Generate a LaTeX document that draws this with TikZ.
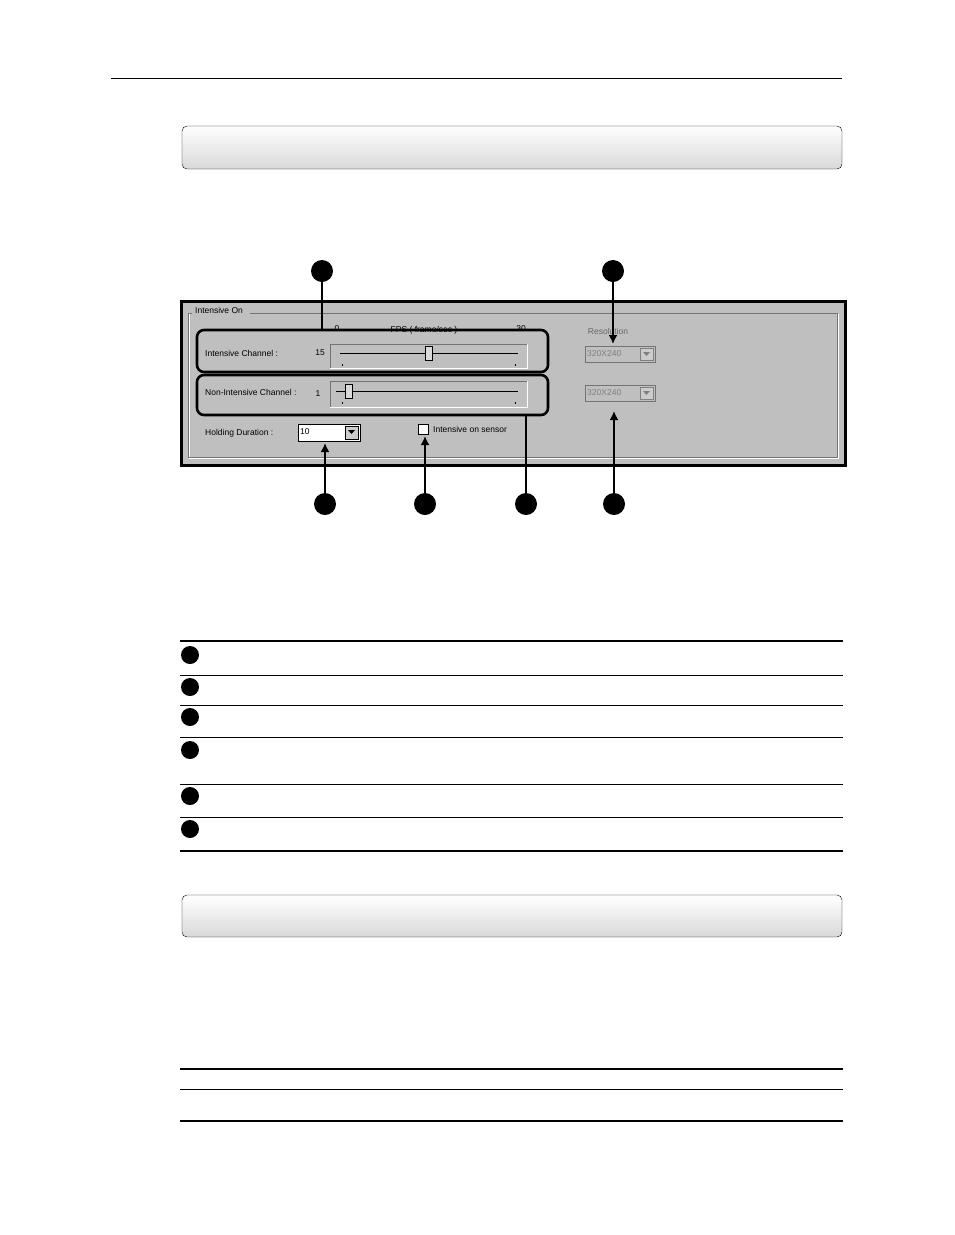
\documentclass[tikz,border=0pt]{standalone}
\usepackage{fontspec}
\setmainfont{Liberation Sans}
\usetikzlibrary{arrows.meta}
\begin{document}
\begin{tikzpicture}[x=1pt,y=-1pt,
  dot/.style={circle,fill=black,inner sep=0pt,minimum size=22pt},
  sdot/.style={circle,fill=black,inner sep=0pt,minimum size=18pt},
  ui/.style={font=\fontsize{8.5}{9}\selectfont,inner sep=0pt},
  hl/.style={draw=black,line width=2.6pt,rounded corners=7pt},
  con/.style={line width=2.6pt},
  arr/.style={line width=2.6pt,-{Latex[length=9pt,width=9pt]}},
  hdr/.style={draw=black,rounded corners=5pt,top color=white,bottom color=black!15}]
\useasboundingbox (0,0) rectangle (954,1235);
\draw[line width=0.8pt] (111,78) -- (842,78);
\path[hdr] (182,126) rectangle (842,169);
\path[hdr] (182,895) rectangle (842,937);
% panel
\draw[line width=3pt,fill=black!25] (181,301) rectangle (845,465);
\draw[white,line width=0.6pt] (189,314) -- (189,458) -- (838,458) -- (838,314);
\draw[black!55,line width=0.6pt] (188,313) -- (188,457) -- (837,457) -- (837,313) -- (250,313);
\draw[black!55] (188,313) -- (192,313);
\node[ui,anchor=west,fill=black!25,inner xsep=1pt] (gb) at (194,310) {Intensive On};
\node[ui] (t0) at (337,329) {0};
\node[ui] (fps) at (424,330) {FPS ( frame/sec )};
\node[ui] (t30) at (521,329) {30};
\node[ui,black!60] (res) at (608,331) {Resolution};
\node[ui,anchor=west] (ic) at (205,353) {Intensive Channel :};
\node[ui] (n15) at (320,353) {15};
\node[ui,anchor=west] (nic) at (205,392) {Non-Intensive Channel :};
\node[ui] (n1) at (318,394) {1};
% sliders
\draw[black!55] (330,368) -- (330,344) -- (527,344);
\draw[white] (527,344) -- (527,368) -- (330,368);
\draw (340,353) -- (518,353);
\draw[fill=black!15] (425,346) rectangle (432,360);
\draw (342,364)--(342,366) (515,364)--(515,366);
\draw[black!55] (330,407) -- (330,381) -- (527,381);
\draw[white] (527,381) -- (527,407) -- (330,407);
\draw (340,391) -- (518,391);
\draw[fill=black!15] (345,384) rectangle (352,398);
\draw (336,391)--(344,391);
\draw (342,402)--(342,404) (515,402)--(515,404);
% dropdowns
\foreach \y/\nm in {346/da,385/db}{
  \draw[black!55,fill=black!25] (585,\y) rectangle (655,\y+16);
  \draw[black!50,fill=black!20] (640,\y+2) rectangle (653,\y+14);
  \fill[black!50] (643,\y+6) -- (650,\y+6) -- (646.5,\y+10) -- cycle;
  \node[ui,black!50,anchor=west] (\nm) at (587,\y+8) {320X240};
}
\node[ui,anchor=west] (hd) at (205,433) {Holding Duration :};
\draw[fill=white] (298,424) rectangle (360,441);
\draw[fill=black!20] (345,426) rectangle (358,439);
\fill (348,430) -- (355,430) -- (351.5,434) -- cycle;
\node[ui,anchor=west] (ten) at (300,432) {10};
\draw[fill=white] (418,424) rectangle (428,434);
\node[ui,anchor=west] (ios) at (433,429) {Intensive on sensor};
% highlight boxes
\draw[hl] (197,330) rectangle (548,372);
\draw[hl] (197,375) rectangle (548,415);
% callouts
\node[dot] (c1) at (322,271) {};
\node[dot] (c2) at (613,271) {};
\node[dot] (c3) at (325,504) {};
\node[dot] (c4) at (425,504) {};
\node[dot] (c5) at (526,504) {};
\node[dot] (c6) at (614,504) {};
\coordinate (e1) at (322,330);
\coordinate (e2) at (613,344);
\coordinate (e3) at (325,443);
\coordinate (e4) at (425,436);
\coordinate (e5) at (526,415);
\coordinate (e6) at (614,411);
\draw[con] (c1) -- (e1);
\draw[arr] (c2) -- (e2);
\draw[arr] (c3) -- (e3);
\draw[arr] (c4) -- (e4);
\draw[con] (c5) -- (e5);
\draw[arr] (c6) -- (e6);
% table 1
\draw[line width=2.5pt] (180,641) -- (843,641);
\foreach \y in {675,705,737,784,817} \draw[line width=0.8pt] (180,\y) -- (843,\y);
\draw[line width=2.5pt] (180,851) -- (843,851);
\foreach \y/\nm in {655/r1,687/r2,717/r3,750/r4,796/r5,829/r6} \node[sdot] (\nm) at (190,\y) {};
% table 2
\draw[line width=2.5pt] (180,1069) -- (843,1069);
\draw[line width=0.8pt] (180,1089) -- (843,1089);
\draw[line width=2.5pt] (180,1121) -- (843,1121);
\end{tikzpicture}
\end{document}
